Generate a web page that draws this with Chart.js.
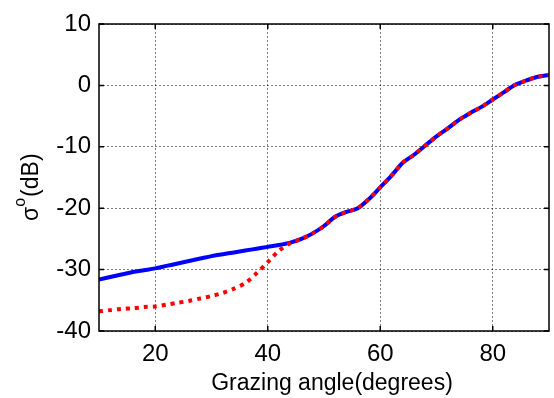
<!DOCTYPE html>
<html>
<head>
<meta charset="utf-8">
<script src="https://cdn.jsdelivr.net/npm/chart.js@4.4.0/dist/chart.umd.min.js"></script>
<style>
  html, body { margin: 0; padding: 0; background: #fff; }
  #wrap { width: 554px; height: 398px; position: relative; }
</style>
</head>
<body>
<div id="wrap"><canvas id="sigmaChart"></canvas></div>
<script>
// Grazing angle vs backscatter

const angles = [10, 12, 14, 16, 18, 20, 22, 24, 26, 28, 30, 32, 34, 36, 38, 40, 42, 44, 46, 48,
    50, 52, 54, 56, 58, 60, 62, 64, 66, 68, 70, 72, 74, 76, 78, 80, 82, 84, 86, 88, 90];

const blueSeries = [-31.6, -31.2, -30.8, -30.4, -30.1, -29.8, -29.4, -29.0, -28.6, -28.2,
    -27.8, -27.5, -27.2, -26.9, -26.6, -26.3, -26.0, -25.6, -25.0, -24.1,
    -22.9, -21.4, -20.6, -20.0, -18.5, -16.6, -14.7, -12.6, -11.3, -9.8,
    -8.3, -7.0, -5.6, -4.5, -3.5, -2.3, -1.1, 0.1, 0.8, 1.4, 1.7];

const redSeries = [-36.8, -36.6, -36.4, -36.3, -36.1, -36.0, -35.7, -35.4, -35.1, -34.7,
    -34.3, -33.8, -33.1, -32.2, -30.6, -28.8, -26.9, -25.7, -25.0, -24.1,
    -22.9, -21.4, -20.6, -20.0, -18.5, -16.6, -14.7, -12.6, -11.3, -9.8,
    -8.3, -7.0, -5.6, -4.5, -3.5, -2.3, -1.1, 0.1, 0.8, 1.4, 1.7];

const xTicks = [20, 40, 60, 80];
const yTicks = [-40, -30, -20, -10, 0, 10];

const FONT = 'Arial, "Liberation Sans", sans-serif';

function toPoints(ys) {
    return angles.map((a, i) => ({ x: a, y: ys[i] }));
}

// box, inner tick marks and axis titles
const framePlugin = {
    id: 'frame',
    afterDraw(chart) {
        const { ctx, chartArea: a, scales } = chart;
        ctx.save();
        ctx.strokeStyle = '#000';
        ctx.lineWidth = 1.5;
        ctx.strokeRect(a.left, a.top, a.right - a.left, a.bottom - a.top);

        ctx.beginPath();
        xTicks.forEach(v => {
            const px = scales.x.getPixelForValue(v);
            ctx.moveTo(px, a.bottom); ctx.lineTo(px, a.bottom - 5);
            ctx.moveTo(px, a.top); ctx.lineTo(px, a.top + 5);
        });
        yTicks.forEach(v => {
            const py = scales.y.getPixelForValue(v);
            ctx.moveTo(a.left, py); ctx.lineTo(a.left + 5, py);
            ctx.moveTo(a.right, py); ctx.lineTo(a.right - 5, py);
        });
        ctx.stroke();

        ctx.fillStyle = '#000';
        // x title
        ctx.font = '23px ' + FONT;
        ctx.textAlign = 'center';
        ctx.textBaseline = 'alphabetic';
        ctx.fillText('Grazing angle(degrees)', 332, 390);

        // y title with superscript o
        ctx.translate(38, 0);
        ctx.rotate(-Math.PI / 2);
        ctx.textAlign = 'left';
        let x = -221;
        ctx.font = '23px ' + FONT;
        ctx.fillText('σ', x, 0);
        x += ctx.measureText('σ').width;
        ctx.font = '16px ' + FONT;
        ctx.fillText('o', x, -13);
        x += ctx.measureText('o').width + 1;
        ctx.font = '23px ' + FONT;
        ctx.fillText('(dB)', x, 0);
        ctx.restore();
    }
};

const gridStyle = {
    color: 'rgba(0, 0, 0, 0.5)',
    lineWidth: 1,
    drawTicks: false
};

new Chart(document.getElementById('sigmaChart'), {
    type: 'line',
    data: {
        datasets: [
            {
                label: 'blue',
                data: toPoints(blueSeries),
                borderColor: '#0000ff',
                borderWidth: 4,
                pointRadius: 0,
                tension: 0.3,
                fill: false,
                order: 2
            },
            {
                label: 'red',
                data: toPoints(redSeries),
                borderColor: '#ff0000',
                borderWidth: 4,
                borderDash: [4, 5],
                pointRadius: 0,
                tension: 0.3,
                fill: false,
                order: 1
            }
        ]
    },
    options: {
        responsive: true,
        maintainAspectRatio: false,
        animation: false,
        layout: {
            padding: { left: 0, right: 5, top: 24, bottom: 0 }
        },
        plugins: {
            legend: { display: false },
            tooltip: { enabled: false }
        },
        scales: {
            x: {
                type: 'linear',
                min: 10,
                max: 90,
                afterBuildTicks: scale => {
                    scale.ticks = xTicks.map(v => ({ value: v }));
                },
                afterFit: scale => { scale.height = 67; },
                border: { display: false, dash: [2, 2] },
                grid: gridStyle,
                ticks: {
                    color: '#000',
                    padding: 9,
                    font: { family: FONT, size: 24 }
                }
            },
            y: {
                min: -40,
                max: 10,
                afterBuildTicks: scale => {
                    scale.ticks = yTicks.map(v => ({ value: v }));
                },
                afterFit: scale => { scale.width = 99; },
                border: { display: false, dash: [2, 2] },
                grid: gridStyle,
                ticks: {
                    color: '#000',
                    padding: 8,
                    font: { family: FONT, size: 24 }
                }
            }
        }
    },
    plugins: [framePlugin]
});
</script>
</body>
</html>
